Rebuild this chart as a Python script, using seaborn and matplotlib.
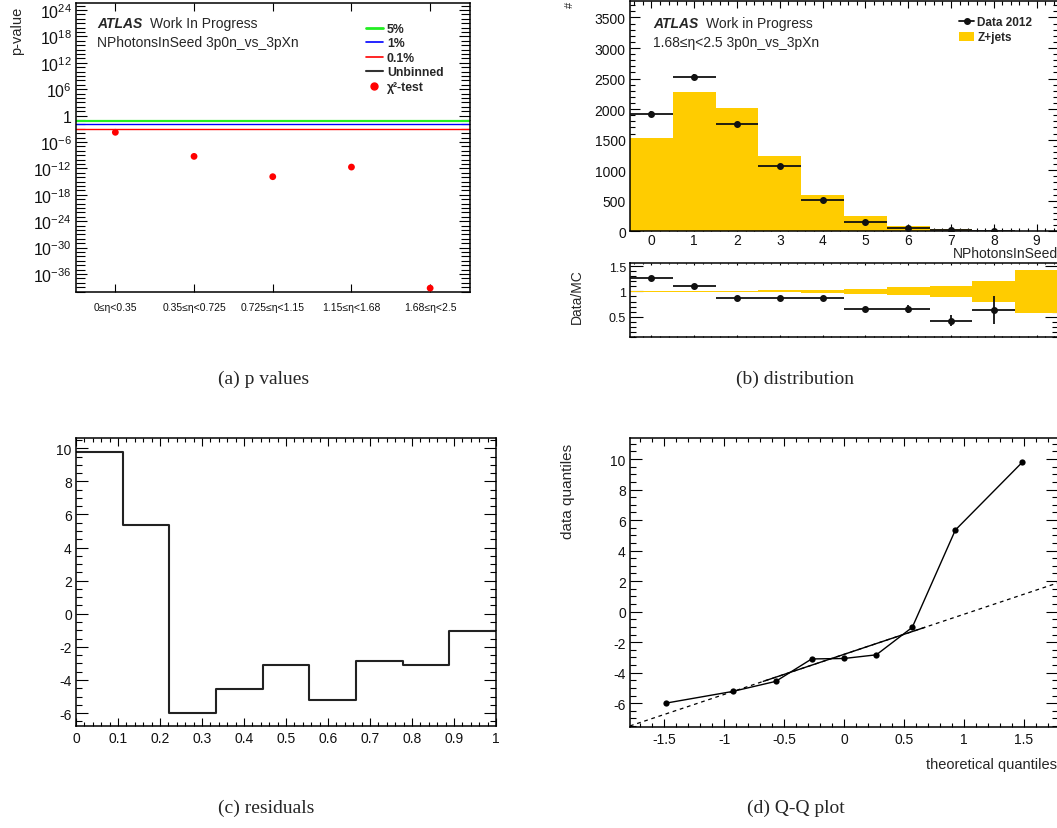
import numpy as np
import pandas as pd
import matplotlib
matplotlib.use("Agg")
import matplotlib.pyplot as plt
from matplotlib import ticker
from matplotlib.lines import Line2D
from matplotlib.patches import Patch
import seaborn as sns

# ---------------- data ----------------
# (a) chi2 p-values per eta bin
eta_bins = ["0≤η<0.35", "0.35≤η<0.725", "0.725≤η<1.15", "1.15≤η<1.68", "1.68≤η<2.5"]
chi2_pvalues = [1.6e-4, 5.4e-10, 1.3e-14, 2.0e-12, 6.0e-40]
thresholds = [0.05, 0.01, 0.001]
threshold_labels = ["5%", "1%", "0.1%"]

# (b) NPhotonsInSeed distribution, 1.68<=eta<2.5
n_photons = [0, 1, 2, 3, 4, 5, 6, 7, 8, 9]
data_2012 = [1923, 2527, 1754, 1068, 506, 158, 61, 16, 5, np.nan]
zjets_mc = [1526, 2287, 2016, 1237, 588, 245, 93, 38, 8, 3]
zjets_rel_unc = [0.01, 0.01, 0.01, 0.02, 0.03, 0.05, 0.08, 0.115, 0.21, 0.43]

# (c) residuals per bin
residuals = [9.8, 5.35, -6.0, -4.57, -3.07, -5.23, -2.83, -3.1, -1.03]

# (d) normal theoretical quantiles for the Q-Q plot
theoretical_q = [-1.49, -0.93, -0.57, -0.27, 0.0, 0.27, 0.57, 0.93, 1.49]

YELLOW = "#ffcc00"

# ---------------- style ----------------
sns.set_theme(style="ticks")
plt.rcParams.update({
    "font.family": ["Liberation Sans", "DejaVu Sans"],
    "mathtext.fontset": "custom",
    "mathtext.rm": "Liberation Sans",
    "mathtext.it": "Liberation Sans:italic",
    "mathtext.bf": "Liberation Sans:bold",
    "axes.unicode_minus": False,
    "axes.linewidth": 1.1,
    "axes.edgecolor": "black",
    "axes.facecolor": "white",
    "figure.facecolor": "white",
    "xtick.direction": "in",
    "ytick.direction": "in",
    "xtick.top": True,
    "ytick.right": True,
    "xtick.color": "black",
    "ytick.color": "black",
    "xtick.labelcolor": "#111111",
    "ytick.labelcolor": "#111111",
    "xtick.labelsize": 10,
    "ytick.labelsize": 10,
    "xtick.major.width": 0.8,
    "ytick.major.width": 0.8,
    "xtick.minor.width": 0.8,
    "ytick.minor.width": 0.8,
    "xtick.major.pad": 3.5,
    "ytick.major.pad": 3,
})

W, H = 1057, 829
fig = plt.figure(figsize=(W / 100, H / 100), dpi=100)


def box(left, top, right, bottom):
    return [left / W, 1 - bottom / H, (right - left) / W, (bottom - top) / H]


def fx(x, y):
    return x / W, 1 - y / H


def px2pt(p):
    return p * 0.72


def ticklen(ax, xmaj, xmin, ymaj, ymin):
    ax.tick_params(axis="x", which="major", length=px2pt(xmaj))
    ax.tick_params(axis="x", which="minor", length=px2pt(xmin))
    ax.tick_params(axis="y", which="major", length=px2pt(ymaj))
    ax.tick_params(axis="y", which="minor", length=px2pt(ymin))
    ax.tick_params(which="both", top=True, right=True, direction="in")


def atlas_label(x_atlas, x_rest, y, rest, second):
    fig.text(*fx(x_atlas, y), "ATLAS", fontsize=10, fontweight="bold",
             fontstyle="italic", va="center", ha="left")
    fig.text(*fx(x_rest, y), rest, fontsize=10, va="center", ha="left")
    fig.text(*fx(x_atlas, y + 19), second, fontsize=10, va="center", ha="left")


# ---------------- (a) p values ----------------
axa = fig.add_axes(box(76, 4, 469.5, 293))
xa = np.arange(len(eta_bins)) + 0.5
axa.axhline(thresholds[0], color="#22ee22", lw=1.6, zorder=2)
axa.axhline(thresholds[1], color="#0000ff", lw=1.0, zorder=2)
axa.axhline(thresholds[2], color="#ff0000", lw=1.0, zorder=2)
sns.scatterplot(x=xa, y=chi2_pvalues, ax=axa, color="#ff0000", s=24,
                edgecolor="none", zorder=5, legend=False)
axa.set_yscale("log")
axa.set_ylim(10 ** -40.1, 10 ** 25.6)
axa.set_xlim(0, len(eta_bins))
major_exp = list(range(-36, 25, 6))
axa.yaxis.set_major_locator(ticker.FixedLocator([10.0 ** k for k in major_exp]))
axa.yaxis.set_minor_locator(ticker.FixedLocator([10.0 ** k for k in range(-40, 26)]))
axa.yaxis.set_major_formatter(ticker.FuncFormatter(
    lambda v, p: "1" if abs(np.log10(v)) < 0.5 else r"$10^{%d}$" % round(np.log10(v))))
axa.yaxis.set_minor_formatter(ticker.NullFormatter())
axa.tick_params(axis="y", labelsize=11.5)
axa.set_xticks(xa)
axa.set_xticklabels(eta_bins, fontsize=7.5)
axa.xaxis.set_minor_locator(ticker.NullLocator())
ticklen(axa, 8, 4, 11, 9)
axa.tick_params(axis="x", pad=7)
axa.set_xlabel("")
axa.set_ylabel("")
fig.text(*fx(17, 31), "p-value", rotation=90, fontsize=10.5, va="center", ha="center")
atlas_label(97, 150, 24, "Work In Progress", "NPhotonsInSeed 3p0n_vs_3pXn")

handles_a = [Line2D([], [], color="#22ee22", lw=2.0),
             Line2D([], [], color="#0000ff", lw=1.2),
             Line2D([], [], color="#ff0000", lw=1.2),
             Line2D([], [], color="#333333", lw=1.5),
             Line2D([], [], color="#ff0000", lw=0, marker="o", ms=5)]
labels_a = threshold_labels + ["Unbinned", "χ²-test"]
axa.legend(handles_a, labels_a, loc="upper left",
           bbox_to_anchor=fx(366, 24), bbox_transform=fig.transFigure,
           frameon=False, prop={"weight": "bold", "size": 8.8},
           handlelength=1.35, handletextpad=0.35, labelspacing=0.2,
           borderpad=0, borderaxespad=0)

# ---------------- (b) distribution ----------------
axb = fig.add_axes(box(630, 2, 1058, 232.3))
dist_df = pd.DataFrame({"n": n_photons, "mc": zjets_mc})
sns.histplot(data=dist_df, x="n", weights="mc", discrete=True, ax=axb,
             color=YELLOW, alpha=1, linewidth=0, element="bars", fill=True)
data_arr = np.array(data_2012, dtype=float)
axb.errorbar(n_photons, data_arr, xerr=0.5, yerr=np.sqrt(data_arr), fmt="o",
             color="#111111", ms=4, lw=1.3, capsize=0, zorder=5)
axb.set_xlim(-0.5, 9.5)
axb.set_ylim(0, 3770)
axb.xaxis.set_major_locator(ticker.MultipleLocator(1))
axb.xaxis.set_minor_locator(ticker.MultipleLocator(0.2))
axb.yaxis.set_major_locator(ticker.MultipleLocator(500))
axb.yaxis.set_minor_locator(ticker.MultipleLocator(100))
axb.xaxis.set_major_formatter(ticker.FormatStrFormatter("%g"))
ticklen(axb, 7, 3.5, 10, 5)
axb.tick_params(axis="x", pad=1.5)
axb.set_xlabel("")
axb.set_ylabel("")
fig.text(*fx(570, 5), "#", rotation=90, fontsize=8, va="center", ha="center")
fig.text(*fx(1058, 254.5), "NPhotonsInSeed", fontsize=10, va="center", ha="right")
atlas_label(653, 706, 24, "Work in Progress", "1.68≤η<2.5 3p0n_vs_3pXn")

handles_b = [Line2D([], [], color="#111111", lw=1.3, marker="o", ms=4),
             Patch(facecolor=YELLOW, edgecolor="none")]
axb.legend(handles_b, ["Data 2012", "Z+jets"], loc="upper left",
           bbox_to_anchor=fx(959, 17.5), bbox_transform=fig.transFigure,
           frameon=False, prop={"weight": "bold", "size": 8.5},
           handlelength=1.3, handleheight=0.85, handletextpad=0.25,
           labelspacing=0.25, borderpad=0, borderaxespad=0)

# ratio
axr = fig.add_axes(box(630, 264.3, 1058, 337.7))
unc = np.array(zjets_rel_unc)
axr.bar(n_photons, 2 * unc, bottom=1 - unc, width=1.0, color=YELLOW, lw=0, zorder=1)
ratio = data_arr / np.array(zjets_mc, dtype=float)
ratio_err = np.sqrt(data_arr) / np.array(zjets_mc, dtype=float)
axr.errorbar(n_photons, ratio, xerr=0.5, yerr=ratio_err, fmt="o",
             color="#111111", ms=4, lw=1.3, capsize=0, zorder=5)
axr.set_xlim(-0.5, 9.5)
axr.set_ylim(0.1, 1.56)
axr.set_yticks([0.5, 1.0, 1.5])
axr.yaxis.set_major_formatter(ticker.FormatStrFormatter("%g"))
axr.yaxis.set_minor_locator(ticker.MultipleLocator(0.1))
axr.xaxis.set_major_locator(ticker.MultipleLocator(1))
axr.xaxis.set_minor_locator(ticker.MultipleLocator(0.2))
axr.tick_params(axis="x", labelbottom=False)
axr.tick_params(axis="y", labelsize=9)
ticklen(axr, 2.5, 1.3, 13, 6)
fig.text(*fx(577, 297), "Data/MC", rotation=90, fontsize=10, va="center", ha="center")

# ---------------- (c) residuals ----------------
axc = fig.add_axes(box(76, 439.3, 496, 727.3))
edges_c = np.linspace(0, 1, len(residuals) + 1)
sns.lineplot(x=edges_c, y=np.append(residuals, residuals[-1]), ax=axc,
             drawstyle="steps-post", color="#222222", lw=1.5, estimator=None)
axc.set_xlim(0, 1)
axc.set_ylim(-6.8, 10.6)
axc.xaxis.set_major_locator(ticker.MultipleLocator(0.1))
axc.xaxis.set_minor_locator(ticker.MultipleLocator(0.02))
axc.yaxis.set_major_locator(ticker.MultipleLocator(2))
axc.yaxis.set_minor_locator(ticker.MultipleLocator(0.5))
axc.xaxis.set_major_formatter(ticker.FormatStrFormatter("%g"))
axc.yaxis.set_major_formatter(ticker.FormatStrFormatter("%g"))
ticklen(axc, 8, 4, 12, 6)
axc.set_xlabel("")
axc.set_ylabel("")

# ---------------- (d) Q-Q plot ----------------
axd = fig.add_axes(box(630, 439, 1058, 728.3))
data_q = np.sort(residuals)
sns.lineplot(x=theoretical_q, y=data_q, ax=axd, color="black", lw=1.0,
             marker="o", markersize=4.5, markeredgewidth=0, estimator=None)
axd.set_xlim(-1.787, 1.787)
axd.set_ylim(-7.58, 11.38)
q1, q3 = np.quantile(data_q, [0.25, 0.75])
zq = 0.6745
slope = (q3 - q1) / (2 * zq)
icpt = (q1 + q3) / 2
xl = np.array(axd.get_xlim())
axd.plot(xl, icpt + slope * xl, color="black", lw=0.9, ls=(0, (3, 3)))
xs = np.array([-zq, zq])
axd.plot(xs, icpt + slope * xs, color="black", lw=1.0)
axd.xaxis.set_major_locator(ticker.MultipleLocator(0.5))
axd.xaxis.set_minor_locator(ticker.MultipleLocator(0.1))
axd.yaxis.set_major_locator(ticker.MultipleLocator(2))
axd.yaxis.set_minor_locator(ticker.MultipleLocator(0.5))
axd.xaxis.set_major_formatter(ticker.FormatStrFormatter("%g"))
axd.yaxis.set_major_formatter(ticker.FormatStrFormatter("%g"))
ticklen(axd, 8, 4, 12, 6)
axd.set_xlabel("")
axd.set_ylabel("")
fig.text(*fx(568, 491), "data quantiles", rotation=90, fontsize=11,
         va="center", ha="center")
fig.text(*fx(1057, 765), "theoretical quantiles", fontsize=10.5,
         va="center", ha="right")

# ---------------- captions ----------------
cap = dict(fontsize=14, family=["Liberation Serif", "DejaVu Serif"], ha="center", va="center")
fig.text(*fx(264, 379), "(a) p values", **cap)
fig.text(*fx(795, 379), "(b) distribution", **cap)
fig.text(*fx(266, 808), "(c) residuals", **cap)
fig.text(*fx(796, 808), "(d) Q-Q plot", **cap)

fig.savefig("out.png", dpi=100)
